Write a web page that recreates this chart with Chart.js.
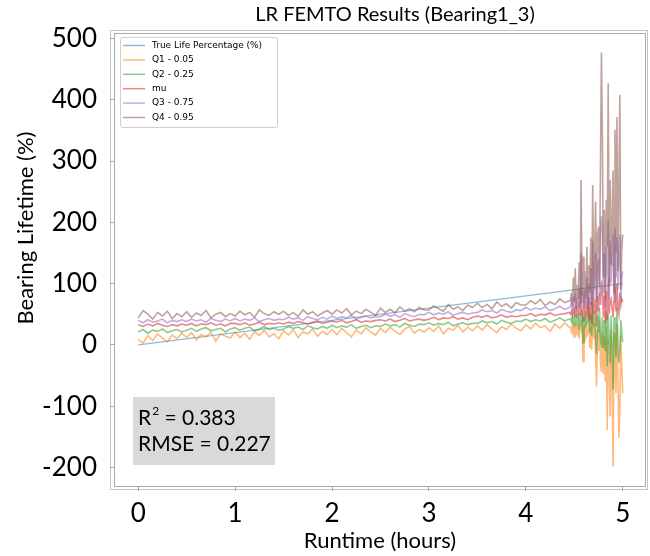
<!DOCTYPE html>
<html>
<head>
<meta charset="utf-8">
<script src="https://cdn.jsdelivr.net/npm/chart.js@4.4.1/dist/chart.umd.min.js"></script>
<style>
  html, body { margin: 0; padding: 0; background: #fff; }
</style>
</head>
<body>
<canvas id="lrChart" width="650" height="556"></canvas>
<script>
// runtime in hours (x values shared by the quantile series)
var runtime = [
  0, 0.05, 0.1, 0.15, 0.2, 0.25, 0.3, 0.35, 0.4, 0.45,
  0.5, 0.55, 0.6, 0.65, 0.7, 0.75, 0.8, 0.85, 0.9, 0.95,
  1, 1.05, 1.1, 1.15, 1.2, 1.25, 1.3, 1.35, 1.4, 1.45,
  1.5, 1.55, 1.6, 1.65, 1.7, 1.75, 1.8, 1.85, 1.9, 1.95,
  2, 2.05, 2.1, 2.15, 2.2, 2.25, 2.3, 2.35, 2.4, 2.45,
  2.5, 2.55, 2.6, 2.65, 2.7, 2.75, 2.8, 2.85, 2.9, 2.95,
  3, 3.05, 3.1, 3.15, 3.2, 3.25, 3.3, 3.35, 3.4, 3.45,
  3.5, 3.55, 3.6, 3.65, 3.7, 3.75, 3.8, 3.85, 3.9, 3.95,
  4, 4.05, 4.1, 4.15, 4.2, 4.25, 4.3, 4.35, 4.4, 4.45,
  4.46, 4.47, 4.48, 4.49, 4.5, 4.51, 4.52, 4.53, 4.54, 4.55,
  4.56, 4.57, 4.58, 4.59, 4.6, 4.61, 4.62, 4.63, 4.64, 4.65,
  4.66, 4.67, 4.68, 4.69, 4.7, 4.71, 4.72, 4.73, 4.74, 4.75,
  4.76, 4.77, 4.78, 4.79, 4.8, 4.81, 4.82, 4.83, 4.84, 4.85,
  4.86, 4.87, 4.88, 4.89, 4.9, 4.91, 4.92, 4.93, 4.94, 4.95,
  4.96, 4.97, 4.98, 4.99, 5
];

var q1 = [
  9, 3, 15, 7, 18, 11, 5, 16, 10, 19,
  12, 20, 8, 17, 13, 21, 6, 18, 14, 11,
  21, 12, 19, 9, 22, 15, 24, 13, 18, 10,
  23, 16, 25, 12, 21, 18, 26, 14, 22, 17,
  25, 17, 27, 20, 13, 24, 18, 28, 21, 16,
  27, 20, 29, 22, 17, 26, 30, 19, 25, 21,
  28, 22, 31, 18, 27, 24, 32, 21, 29, 23,
  31, 24, 33, 26, 20, 30, 25, 34, 27, 23,
  33, 26, 35, 28, 31, 22, 34, 27, 36, 29,
  28, 22, 33, 18, 30, 12, 35, 20, 28, 10,
  32, 25, 40, -27, 30, 5, 38, 15, 19, 45,
  -5, 30, -8, 48, 10, 35, -20, -68, 25, -10,
  42, -30, -44, 20, -48, 15, -60, 30, -139, 10,
  -40, -117, 25, -55, -199, 20, -30, -79, 35, -45,
  -152, -106, 15, -35, -79
];

var q2 = [
  21, 25, 19, 24, 22, 26, 20, 23, 25, 21,
  24, 27, 22, 26, 28, 23, 25, 27, 21, 26,
  28, 24, 27, 29, 23, 26, 30, 25, 27, 24,
  26, 30, 27, 29, 25, 31, 28, 26, 30, 27,
  32, 28, 31, 29, 33, 27, 30, 32, 28, 31,
  30, 34, 31, 33, 29, 35, 32, 30, 34, 33,
  36, 32, 35, 33, 37, 31, 34, 36, 33, 35,
  35, 39, 36, 38, 34, 40, 37, 35, 39, 38,
  42, 38, 41, 39, 43, 37, 40, 44, 39, 42,
  42, 38, 46, 35, 48, 30, 50, 36, 44, 25,
  52, 40, 58, 3, 45, 28, 55, 35, 40, 62,
  20, 50, 15, 68, 30, 55, 10, -15, 48, 20,
  60, 5, 0, 45, -5, 40, -10, 55, -35, 50,
  10, -30, 48, 0, -73, 45, 15, -20, 60, 5,
  -29, -10, 40, 20, 5
];

var mu = [
  33, 30, 34, 31, 35, 32, 30, 33, 31, 34,
  32, 35, 31, 34, 33, 36, 32, 34, 31, 35,
  35, 33, 36, 32, 34, 37, 33, 35, 34, 36,
  34, 37, 35, 38, 36, 34, 37, 39, 35, 37,
  39, 37, 40, 36, 38, 41, 37, 39, 38, 40,
  41, 39, 42, 38, 40, 43, 39, 41, 42, 40,
  42, 45, 41, 44, 43, 46, 42, 44, 41, 45,
  47, 45, 48, 44, 46, 49, 45, 47, 46, 48,
  48, 51, 47, 50, 49, 52, 48, 50, 51, 53,
  50, 55, 48, 60, 52, 65, 45, 58, 50, 70,
  48, 95, 55, 40, 62, 50, 72, 58, 45, 78,
  40, 70, 35, 90, 50, 75, 60, 30, 80, 55,
  85, 65, 105, 90, 45, 80, 35, 88, 40, 110,
  50, 70, 75, 60, 45, 70, 95, 55, 100, 60,
  50, 85, 65, 75, 70
];

var q3 = [
  40, 36, 41, 37, 39, 42, 36, 40, 38, 41,
  38, 42, 39, 41, 37, 43, 40, 38, 42, 39,
  43, 39, 42, 40, 44, 38, 41, 43, 40, 42,
  41, 45, 42, 44, 40, 46, 43, 41, 45, 42,
  47, 43, 46, 44, 48, 42, 45, 47, 44, 46,
  46, 50, 47, 49, 45, 51, 48, 46, 50, 49,
  53, 49, 52, 50, 54, 48, 51, 53, 50, 52,
  53, 57, 54, 56, 52, 58, 55, 53, 57, 56,
  61, 57, 60, 58, 62, 56, 59, 63, 58, 61,
  62, 70, 58, 78, 65, 85, 55, 75, 62, 92,
  60, 150, 68, 80, 58, 90, 70, 110, 55, 100,
  65, 125, 60, 170, 75, 110, 150, 55, 130, 140,
  80, 180, 210, 190, 85, 150, 60, 160, 110, 205,
  75, 170, 100, 140, 180, 70, 190, 110, 175, 90,
  150, 180, 70, 110, 120
];

var q4 = [
  44, 56, 50, 42, 53, 47, 55, 43, 51, 46,
  54, 45, 52, 48, 56, 44, 50, 53, 46, 51,
  47, 55, 49, 53, 45, 57, 51, 48, 54, 50,
  55, 48, 53, 46, 57, 50, 54, 47, 52, 56,
  50, 57, 52, 59, 49, 55, 51, 58, 53, 48,
  60, 53, 58, 52, 62, 55, 59, 54, 61, 57,
  57, 64, 59, 55, 66, 58, 62, 56, 65, 61,
  68, 61, 66, 59, 70, 63, 67, 60, 69, 65,
  65, 72, 67, 74, 64, 70, 66, 75, 69, 72,
  72, 85, 64, 110, 70, 125, 60, 98, 75, 135,
  68, 269, 80, 144, 62, 120, 75, 160, 58, 130,
  85, 175, 66, 261, 90, 150, 234, 70, 180, 193,
  95, 290, 477, 340, 110, 220, 75, 237, 160, 427,
  95, 269, 130, 200, 285, 85, 351, 150, 372, 120,
  250, 408, 90, 155, 180
];

var trueRuntime = [0, 5];
var truePct = [0, 100];

var seriesLabels = ['True Life Percentage (%)', 'Q1 - 0.05', 'Q2 - 0.25', 'mu', 'Q3 - 0.75', 'Q4 - 0.95'];
var seriesColors = [
  'rgba(31, 119, 180, 0.5)',
  'rgba(255, 127, 14, 0.55)',
  'rgba(44, 160, 44, 0.55)',
  'rgba(214, 39, 40, 0.55)',
  'rgba(148, 103, 189, 0.55)',
  'rgba(140, 86, 75, 0.55)'
];
var r2Text = '0.383';
var rmseText = '0.227';

function toPoints(xs, ys) {
  return xs.map(function(x, i) { return { x: x, y: ys[i] }; });
}

var seriesData = [
  toPoints(trueRuntime, truePct),
  toPoints(runtime, q1),
  toPoints(runtime, q2),
  toPoints(runtime, mu),
  toPoints(runtime, q3),
  toPoints(runtime, q4)
];

var decorPlugin = {
  id: 'decor',
  beforeDraw: function(chart) {
    var c = chart.ctx, a = chart.chartArea;
    c.save();
    c.strokeStyle = '#c4c4c4';
    c.lineWidth = 1;
    c.strokeRect(Math.round(a.left) - 3.5, Math.round(a.top) - 2.5, a.right - a.left + 5, a.bottom - a.top + 5);
    c.restore();
  },
  afterDatasetsDraw: function(chart) {
    var c = chart.ctx, a = chart.chartArea;
    c.save();
    // axes frame
    c.strokeStyle = '#a8a8a8';
    c.lineWidth = 1;
    c.strokeRect(Math.round(a.left) + 0.5, Math.round(a.top) + 0.5, a.right - a.left - 1, a.bottom - a.top - 1);

    // legend box
    var lx = a.left + 6, ly = a.top + 4;
    c.fillStyle = 'rgba(255,255,255,0.8)';
    c.strokeStyle = '#d0d0d0';
    c.beginPath();
    c.roundRect(lx + 0.5, ly + 0.5, 157, 90, 2);
    c.fill();
    c.stroke();
    c.font = '9px "DejaVu Sans"';
    c.textBaseline = 'middle';
    chart.data.datasets.forEach(function(ds, i) {
      var yy = ly + 8.5 + i * 14.4;
      c.strokeStyle = ds.borderColor;
      c.lineWidth = 1.5;
      c.beginPath();
      c.moveTo(lx + 3, yy);
      c.lineTo(lx + 25, yy);
      c.stroke();
      c.fillStyle = '#000';
      c.fillText(ds.label, lx + 32, yy);
    });

    // stats box
    var bx = a.left + 19, by = a.bottom - 90;
    c.fillStyle = '#d9d9d9';
    c.fillRect(bx, by, 142, 68);
    c.fillStyle = '#000';
    c.textBaseline = 'alphabetic';
    c.font = '21px Lato';
    c.fillText('R', bx + 5, by + 28);
    var rw = c.measureText('R').width;
    c.font = '12px Lato';
    c.fillText('2', bx + 5 + rw + 1, by + 18);
    var sw = c.measureText('2').width;
    c.font = '21px Lato';
    c.fillText(' = ' + r2Text, bx + 5 + rw + sw + 1, by + 28);
    c.fillText('RMSE = ' + rmseText, bx + 5, by + 54);
    c.restore();
  },
  afterDraw: function(chart) {
    var c = chart.ctx;
    c.save();
    c.fillStyle = '#000';
    c.textAlign = 'center';
    c.textBaseline = 'middle';
    c.font = '20px Lato';
    c.fillText('LR FEMTO Results (Bearing1_3)', 395, 15);
    c.font = '22px Lato';
    c.translate(26, 228);
    c.rotate(-Math.PI / 2);
    c.fillText('Bearing Lifetime (%)', 0, 0);
    c.restore();
  }
};

var ctx = document.getElementById('lrChart').getContext('2d');
var lrChart = new Chart(ctx, {
  type: 'line',
  data: {
    datasets: seriesLabels.map(function(label, i) {
      return {
        label: label,
        data: seriesData[i],
        borderColor: seriesColors[i],
        backgroundColor: seriesColors[i],
        borderWidth: i === 0 ? 1.2 : 1.6,
        pointRadius: 0,
        tension: 0,
        fill: false,
        order: 6 - i
      };
    })
  },
  options: {
    responsive: false,
    animation: false,
    layout: { padding: { top: 33, right: 4, left: 0, bottom: 0 } },
    plugins: {
      legend: { display: false },
      title: { display: false },
      tooltip: { enabled: false }
    },
    scales: {
      x: {
        type: 'linear',
        min: -0.25,
        max: 5.24,
        afterFit: function(scale) { scale.height = 69; },
        ticks: {
          stepSize: 1,
          includeBounds: false,
          color: '#000',
          padding: 7,
          maxRotation: 0,
          font: { family: 'Lato', size: 26 }
        },
        grid: { drawOnChartArea: false, drawTicks: true, tickLength: 4, color: '#a8a8a8' },
        border: { display: false },
        title: {
          display: true,
          text: 'Runtime (hours)',
          color: '#000',
          font: { family: 'Lato', size: 22 },
          padding: { top: 0, bottom: 2 }
        }
      },
      y: {
        min: -232,
        max: 509,
        afterFit: function(scale) { scale.width = 114; },
        ticks: {
          stepSize: 100,
          includeBounds: false,
          color: '#000',
          padding: 13,
          font: { family: 'Lato', size: 26 }
        },
        grid: { drawOnChartArea: false, drawTicks: true, tickLength: 4, color: '#a8a8a8' },
        border: { display: false }
      }
    }
  },
  plugins: [decorPlugin]
});
</script>
</body>
</html>
